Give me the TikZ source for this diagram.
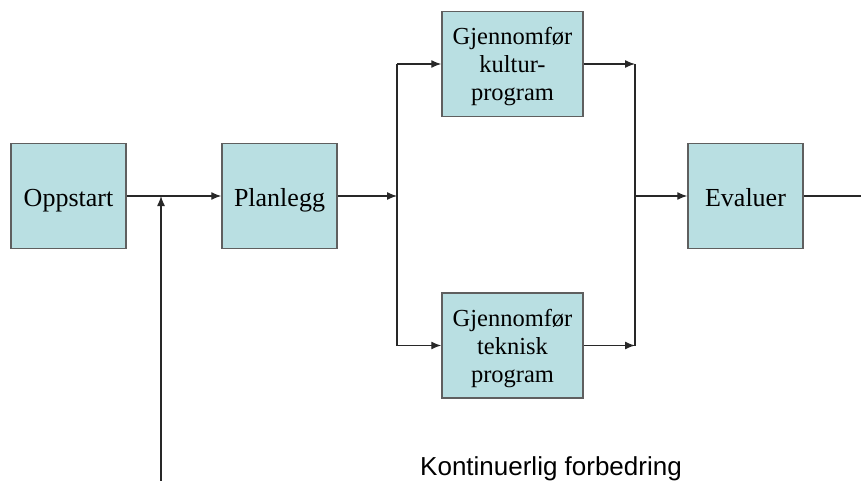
\documentclass[tikz,border=0pt]{standalone}
\usepackage{fontspec}
\setmainfont{Liberation Serif}
\newfontfamily\labelfont{Liberation Sans}
\usetikzlibrary{arrows.meta}
\definecolor{boxfill}{RGB}{185,223,226}
\definecolor{boxline}{RGB}{95,95,95}
\definecolor{wire}{RGB}{40,40,40}
\begin{document}
\begin{tikzpicture}[x=1pt,y=-1pt,
  procbox/.style={draw=boxline,line width=1.5pt,fill=boxfill,inner sep=0pt,
     minimum width=115pt,minimum height=105pt,align=center,
     font=\fontsize{26}{30}\selectfont},
  singlebox/.style={procbox,text height=22pt,text depth=2pt},
  widebox/.style={procbox,minimum width=141pt,text depth=0pt,font=\fontsize{24.5}{28}\selectfont},
  wire/.style={draw=wire,line width=1.3pt},
  arr/.style={wire,-{Latex[length=10pt,width=8pt]}}]
\useasboundingbox (0,0) rectangle (861,481);
\node[singlebox] (opp) at (68.5,196) {Oppstart};
\node[singlebox] (plan) at (279.5,196) {Planlegg};
\node[widebox] (kul) at (512.5,64) {Gjennomfør\\kultur-\\program};
\node[widebox] (tek) at (512.5,345.5) {Gjennomfør\\teknisk\\program};
\node[singlebox] (eval) at (745.5,196) {Evaluer};
\coordinate (fb0) at (161,481);
\coordinate (fb1) at (161,196);
\coordinate (split) at (397,196);
\coordinate (splitT) at (397,64);
\coordinate (splitB) at (397,345.5);
\coordinate (mergeT) at (635,64);
\coordinate (mergeB) at (635,345.5);
\coordinate (merge) at (635,196);
\coordinate (out) at (861,196);
\draw[arr] (opp.east) -- (plan.west);
\draw[arr] (fb0) -- (fb1);
\draw[arr] (plan.east) -- (split);
\draw[wire] (splitT) -- (splitB);
\draw[arr] (splitT) -- (kul.west);
\draw[arr] (splitB) -- (tek.west);
\draw[arr] (kul.east) -- (mergeT);
\draw[arr] (tek.east) -- (mergeB);
\draw[wire] (mergeT) -- (mergeB);
\draw[arr] (merge) -- (eval.west);
\draw[wire] (eval.east) -- (out);
\node[anchor=base west,inner sep=0pt,font=\labelfont\fontsize{26}{30}\selectfont] (kf) at (420,475) {Kontinuerlig forbedring};
\end{tikzpicture}
\end{document}
